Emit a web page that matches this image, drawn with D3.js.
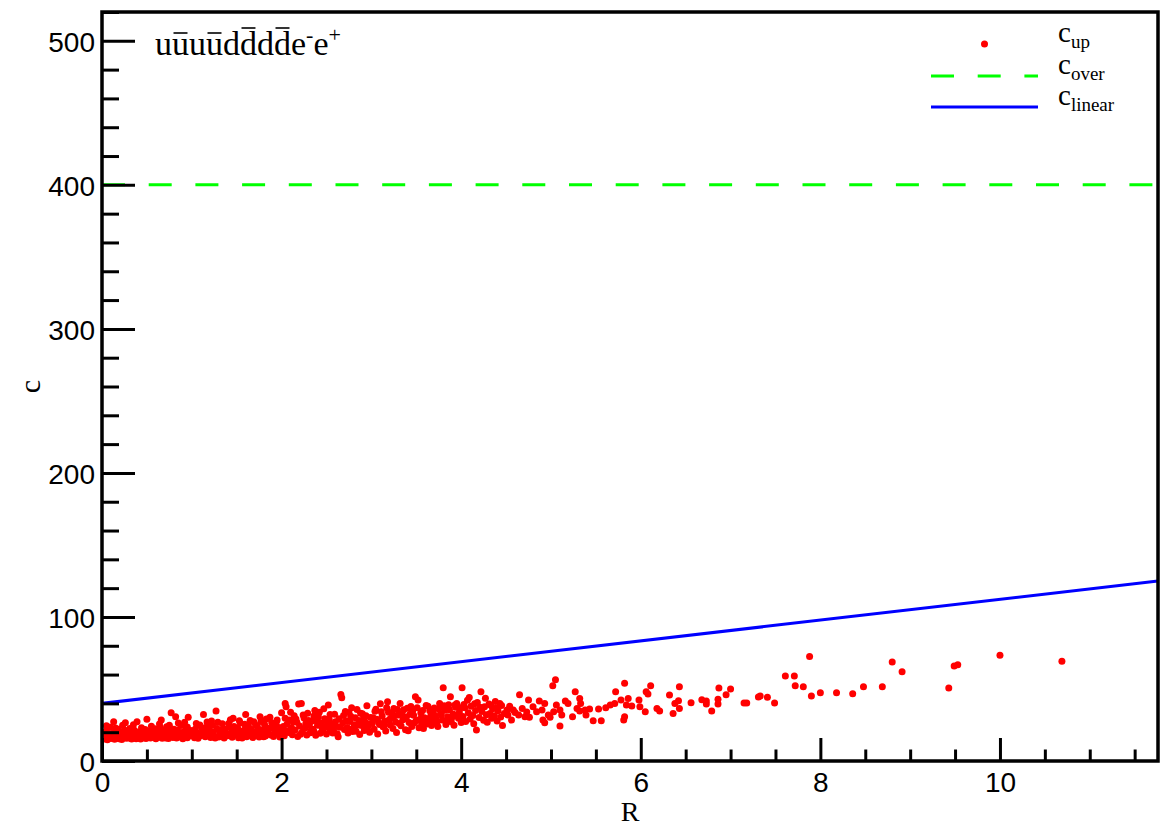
<!DOCTYPE html>
<html>
<head>
<meta charset="utf-8">
<script src="https://cdn.jsdelivr.net/npm/d3@7"></script>
<style>
    body { margin: 0; background: white; }
    svg { display: block; }
    .tickLabel text { font-family: "Liberation Sans", Arial, sans-serif; font-size: 28px; fill: black; }
    .serif { font-family: "Liberation Serif", "Times New Roman", serif; fill: black; }
</style>
</head>
<body>
<svg id="chart" width="1171" height="828"></svg>
<script>

//  axis ranges and ticks
const rRange = [0, 11.76];
const cRange = [0, 520];
const rMajorTicks = [0, 2, 4, 6, 8, 10];
const rMinorTicks = [0.5, 1, 1.5, 2.5, 3, 3.5, 4.5, 5, 5.5, 6.5, 7, 7.5, 8.5, 9, 9.5, 10.5, 11, 11.5];
const cMajorTicks = [0, 100, 200, 300, 400, 500];
const cMinorTicks = [20, 40, 60, 80, 120, 140, 160, 180, 220, 240, 260, 280, 320, 340, 360, 380, 420, 440, 460, 480, 520];

//  c_over and c_linear
const overR = [0, 11.76];
const overC = [400, 400];
const linearR = [0, 11.76];
const linearC = [40, 125];

//  c_up points, [R, c]
const upPoints0to1 = [
    [0.01,17.5],[0.02,15.2],[0.03,19.8],[0.04,16.4],[0.05,21.0],[0.06,14.8],[0.07,18.3],[0.08,16.9],[0.09,23.5],[0.10,15.6],
    [0.11,19.1],[0.12,17.0],[0.13,27.3],[0.14,15.1],[0.15,20.4],[0.16,16.2],[0.17,18.8],[0.18,22.1],[0.19,15.4],[0.20,17.7],
    [0.21,19.5],[0.22,14.9],[0.23,24.8],[0.24,16.6],[0.25,18.1],[0.26,26.6],[0.27,15.8],[0.28,20.9],[0.29,17.3],[0.30,16.0],
    [0.31,22.6],[0.32,18.5],[0.33,15.3],[0.34,19.9],[0.35,17.1],[0.36,21.4],[0.37,16.3],[0.38,15.5],[0.39,27.3],[0.40,18.6],
    [0.41,20.2],[0.42,16.8],[0.43,15.2],[0.44,23.1],[0.45,17.9],[0.46,19.4],[0.47,16.1],[0.48,21.8],[0.49,15.7],[0.50,28.9],
    [0.51,18.2],[0.52,17.0],[0.53,20.6],[0.54,15.9],[0.55,24.2],[0.56,16.7],[0.57,19.0],[0.58,18.0],[0.59,22.4],[0.60,15.4],
    [0.61,17.6],[0.62,20.1],[0.63,16.5],[0.64,25.7],[0.65,18.9],[0.66,28.4],[0.67,15.8],[0.68,21.2],[0.69,17.4],[0.70,19.6],
    [0.71,16.0],[0.72,23.8],[0.73,18.3],[0.74,15.6],[0.75,20.7],[0.76,17.2],[0.77,33.5],[0.78,19.3],[0.79,16.4],[0.80,22.0],
    [0.81,18.7],[0.82,30.7],[0.83,15.9],[0.84,21.5],[0.85,17.8],[0.86,19.8],[0.87,16.6],[0.88,24.6],[0.89,18.4],[0.90,15.5],
    [0.91,20.3],[0.92,26.9],[0.93,17.0],[0.94,22.8],[0.95,16.2],[0.96,30.3],[0.97,19.2],[0.98,17.5],[0.99,21.1],
    [0.05,24.5],[0.15,22.9],[0.25,21.6],[0.35,25.2],[0.45,22.0],[0.55,20.8],[0.65,23.0],[0.75,24.9],[0.85,26.3],[0.95,23.6]
];
const upPoints1to2 = [
    [1.01,18.6],[1.02,20.5],[1.03,16.1],[1.04,22.3],[1.06,19.4],[1.07,15.8],[1.08,17.2],[1.09,25.0],[1.10,17.7],[1.12,20.8],
    [1.13,32.3],[1.14,19.5],[1.15,16.9],[1.16,23.4],[1.18,18.9],[1.19,21.7],[1.20,24.2],[1.21,16.4],[1.22,27.8],[1.24,19.9],
    [1.25,17.3],[1.26,16.0],[1.27,34.7],[1.28,22.5],[1.30,16.7],[1.31,20.4],[1.32,21.0],[1.33,18.2],[1.34,25.9],[1.36,15.9],
    [1.37,21.9],[1.38,17.8],[1.39,19.0],[1.40,17.6],[1.42,23.7],[1.43,28.6],[1.44,20.0],[1.45,16.5],[1.46,29.6],[1.48,20.6],
    [1.49,18.4],[1.50,18.8],[1.51,22.9],[1.52,16.2],[1.54,26.4],[1.55,19.7],[1.56,15.9],[1.57,17.9],[1.58,21.3],[1.60,32.3],
    [1.61,16.8],[1.62,20.9],[1.63,24.5],[1.64,19.3],[1.66,22.0],[1.67,17.1],[1.68,16.3],[1.69,27.2],[1.70,20.2],[1.72,18.5],
    [1.73,23.9],[1.74,19.8],[1.75,16.6],[1.76,30.7],[1.78,21.5],[1.79,19.1],[1.80,16.9],[1.81,25.3],[1.82,17.4],[1.84,22.7],
    [1.85,20.0],[1.86,22.2],[1.87,30.3],[1.88,18.0],[1.90,24.1],[1.91,17.0],[1.92,19.0],[1.93,21.1],[1.94,26.8],[1.96,19.6],
    [1.97,23.2],[1.98,16.7],[1.99,18.3],[2.00,33.5],
    [1.05,26.0],[1.11,23.1],[1.17,27.0],[1.23,24.8],[1.29,26.9],[1.35,22.4],[1.41,26.1],[1.47,24.0],[1.53,27.9],[1.59,25.5],
    [1.65,28.1],[1.71,25.0],[1.77,27.4],[1.83,29.2],[1.89,26.6],[1.95,28.4]
];
const upPoints2to3 = [
    [2.01,21.0],[2.02,24.0],[2.03,17.5],[2.04,40.0],[2.05,37.7],[2.06,25.6],[2.07,20.8],[2.08,19.8],[2.09,28.4],[2.11,23.0],
    [2.12,18.2],[2.13,27.0],[2.14,31.5],[2.15,21.6],[2.17,26.9],[2.18,17.0],[2.19,39.5],[2.20,24.3],[2.21,18.6],[2.22,40.0],
    [2.23,20.1],[2.25,29.8],[2.26,22.7],[2.27,26.0],[2.28,18.0],[2.29,33.1],[2.31,25.2],[2.32,19.6],[2.33,21.5],[2.34,27.7],
    [2.35,22.1],[2.37,35.0],[2.38,17.8],[2.39,28.0],[2.40,24.8],[2.41,30.6],[2.43,19.2],[2.44,26.2],[2.45,23.0],[2.46,21.4],
    [2.47,36.2],[2.49,23.6],[2.50,18.7],[2.51,26.5],[2.52,38.8],[2.53,28.9],[2.55,22.4],[2.56,25.9],[2.57,19.5],[2.58,20.3],
    [2.59,32.4],[2.61,24.0],[2.62,18.9],[2.63,16.9],[2.64,29.3],[2.65,23.5],[2.66,46.2],[2.67,43.9],[2.68,26.5],[2.70,21.8],
    [2.71,34.3],[2.72,27.8],[2.73,23.3],[2.74,19.5],[2.76,27.4],[2.77,31.0],[2.78,37.0],[2.79,20.5],[2.80,22.9],[2.81,25.1],
    [2.83,20.6],[2.84,35.7],[2.85,25.0],[2.86,28.1],[2.87,18.4],[2.89,24.6],[2.90,32.8],[2.91,29.0],[2.92,21.2],[2.93,27.0],
    [2.95,38.3],[2.96,23.8],[2.97,25.5],[2.98,19.9],[2.99,30.2],
    [2.04,29.6],[2.10,33.8],[2.16,29.1],[2.24,32.0],[2.30,28.2],[2.36,31.3],[2.42,33.9],[2.48,29.4],[2.54,32.2],[2.60,27.3],
    [2.69,31.6],[2.75,33.7],[2.82,30.0],[2.88,33.2],[2.94,31.4],[2.36,20.4],[2.54,21.0],[2.75,22.0],[2.94,22.8]
];
const upPoints3to4 = [
    [3.01,26.1],[3.02,30.0],[3.03,22.0],[3.04,34.5],[3.06,29.0],[3.07,18.7],[3.08,27.0],[3.09,25.4],[3.10,39.8],[3.12,31.3],
    [3.13,23.7],[3.14,24.5],[3.15,27.6],[3.16,20.9],[3.18,41.1],[3.19,33.8],[3.20,28.8],[3.21,25.0],[3.22,29.9],[3.24,22.6],
    [3.25,36.4],[3.26,31.5],[3.27,27.1],[3.28,19.8],[3.30,32.0],[3.31,26.0],[3.32,40.0],[3.33,24.4],[3.35,28.7],[3.36,35.6],
    [3.37,29.5],[3.38,21.7],[3.39,30.5],[3.41,21.0],[3.42,26.8],[3.43,32.5],[3.44,37.9],[3.45,24.0],[3.47,31.8],[3.48,26.5],
    [3.49,44.6],[3.50,28.2],[3.52,42.3],[3.53,23.1],[3.54,29.0],[3.55,33.4],[3.56,26.0],[3.58,22.5],[3.59,30.0],[3.60,27.2],
    [3.61,38.6],[3.62,25.7],[3.64,29.4],[3.65,34.9],[3.66,31.0],[3.67,24.7],[3.68,27.9],[3.70,36.8],[3.71,31.2],[3.72,29.2],
    [3.73,26.4],[3.74,23.9],[3.76,40.0],[3.77,33.0],[3.78,32.0],[3.79,28.5],[3.80,50.8],[3.82,35.3],[3.83,25.3],[3.84,27.7],
    [3.85,30.8],[3.86,39.1],[3.88,44.6],[3.89,27.3],[3.90,30.5],[3.91,32.6],[3.92,24.9],[3.94,37.4],[3.95,40.0],[3.96,31.6],
    [3.97,29.7],[3.98,34.1],[4.00,26.7],
    [3.05,35.9],[3.11,34.2],[3.17,37.0],[3.23,33.5],[3.29,35.8],[3.34,33.0],[3.40,36.6],[3.46,34.8],[3.51,36.9],[3.57,35.1],
    [3.63,38.0],[3.69,34.0],[3.75,36.3],[3.81,38.4],[3.87,35.6],[3.93,38.9],[3.99,37.0]
];
const upPoints4to5 = [
    [4.01,50.8],[4.02,30.9],[4.04,36.9],[4.05,27.5],[4.07,42.1],[4.08,33.5],[4.10,29.1],[4.11,38.0],[4.13,31.6],[4.14,25.8],
    [4.16,35.0],[4.17,21.5],[4.18,40.7],[4.20,30.2],[4.22,48.0],[4.23,34.4],[4.25,28.3],[4.26,37.6],[4.28,32.1],[4.29,26.9],
    [4.31,39.5],[4.32,33.0],[4.34,29.6],[4.35,36.2],[4.37,31.4],[4.38,41.3],[4.40,27.8],[4.41,34.8],[4.43,40.0],[4.44,30.5],
    [4.46,24.7],[4.51,35.4],[4.52,31.9],[4.56,28.4],[4.58,35.4],[4.64,31.9],[4.65,46.0],[4.71,30.7],[4.75,42.3],[4.76,30.3],
    [4.80,37.7],[4.84,34.2],[4.87,41.6],[4.90,35.4],[4.91,28.4],[4.93,40.0],[4.93,26.6],[4.97,31.9],[4.99,30.3],
    [4.03,39.2],[4.09,44.0],[4.15,39.8],[4.21,37.4],[4.27,43.5],[4.33,38.7],[4.39,36.8],[4.45,38.5],[4.48,33.0],[4.54,38.0],
    [4.60,33.6],[4.68,36.5],[4.73,34.0]
];
const upPoints5to7 = [
    [5.02,52.2],[5.05,56.4],[5.03,34.2],[5.06,38.8],[5.10,35.4],[5.10,24.3],[5.12,31.9],[5.16,41.6],[5.19,40.0],[5.24,30.7],
    [5.27,48.0],[5.29,36.4],[5.32,43.4],[5.33,40.0],[5.32,34.7],[5.38,35.4],[5.43,36.1],[5.39,31.9],[5.47,27.9],[5.53,36.1],
    [5.56,27.9],[5.61,37.0],[5.66,38.8],[5.71,40.0],[5.72,48.0],[5.78,42.3],[5.82,53.9],[5.84,38.8],[5.82,30.7],[5.81,28.4],
    [5.86,43.4],[5.90,38.1],[5.98,42.3],[5.99,37.7],[6.05,34.2],[6.06,48.0],[6.08,46.5],[6.11,52.2],[6.18,36.4],[6.21,34.7],
    [6.32,45.8],[6.36,32.9],[6.38,40.0],[6.42,41.8],[6.43,51.5],[6.43,36.4],[6.56,40.4],[6.68,42.5],[6.73,41.6],[6.73,39.5],
    [6.79,34.7],[6.86,42.8],[6.86,39.5],[6.87,50.6],[6.95,46.0],[7.00,49.9]
];
const upPoints7up = [
    [7.15,40.2],[7.18,40.2],[7.31,44.4],[7.33,45.1],[7.41,44.2],[7.49,40.2],[7.61,59.0],[7.71,59.0],[7.88,72.6],[7.72,52.2],
    [7.81,51.5],[7.90,45.1],[8.00,47.4],[8.18,47.4],[8.36,46.7],[8.48,51.5],[8.69,51.5],[8.80,68.7],[8.91,61.9],[9.43,50.6],
    [9.49,65.9],[9.53,66.8],[10.0,73.5],[10.69,69.3]
];

const legendRows = [
    { key: "up", label: "up" },
    { key: "over", label: "over" },
    { key: "linear", label: "linear" }
];

const chart = {

    svg: null,
    plot: null,             //  clipped group for the data marks
    xScale: null,
    yScale: null,

    left: 102,
    right: 1158,
    top: 12,
    bottom: 761,

    initialize: function () {
        this.svg = d3.select('#chart');
        this.xScale = d3.scaleLinear().domain(rRange).range([this.left, this.right]);
        this.yScale = d3.scaleLinear().domain(cRange).range([this.bottom, this.top]);

        this.svg.append('clipPath').attr('id', 'plotClip')
            .append('rect').attr('x', this.left).attr('y', this.top)
            .attr('width', this.right - this.left).attr('height', this.bottom - this.top);
        this.plot = this.svg.append('g').attr('clip-path', 'url(#plotClip)');

        this.drawData();
        this.drawFrame();
        this.drawAxes();
        this.drawTitles();
        this.drawLegend();
    },

    drawData: function () {
        const x = this.xScale, y = this.yScale;
        const lineGen = d3.line().x(d => x(d[0])).y(d => y(d[1]));

        const allUp = [].concat(upPoints0to1, upPoints1to2, upPoints2to3, upPoints3to4,
            upPoints4to5, upPoints5to7, upPoints7up);
        this.plot.selectAll('circle.up').data(allUp).enter().append('circle')
            .attr('class', 'up')
            .attr('cx', d => x(d[0])).attr('cy', d => y(d[1])).attr('r', 3.5)
            .attr('fill', '#ff0000');

        this.plot.append('path').datum(d3.zip(overR, overC))
            .attr('d', lineGen).attr('fill', 'none')
            .attr('stroke', '#00ff00').attr('stroke-width', 3)
            .attr('stroke-dasharray', '23,23.7');

        this.plot.append('path').datum(d3.zip(linearR, linearC))
            .attr('d', lineGen).attr('fill', 'none')
            .attr('stroke', '#0000ff').attr('stroke-width', 3);
    },

    drawFrame: function () {
        this.svg.append('rect')
            .attr('x', this.left).attr('y', this.top)
            .attr('width', this.right - this.left).attr('height', this.bottom - this.top)
            .attr('fill', 'none').attr('stroke', 'black').attr('stroke-width', 3.5);
    },

    drawAxes: function () {
        const x = this.xScale, y = this.yScale;

        //  bottom axis: major with labels, minor without. Ticks point inside.
        this.svg.append('g').attr('class', 'tickLabel')
            .attr('transform', `translate(0,${this.bottom})`)
            .call(d3.axisBottom(x).tickValues(rMajorTicks).tickFormat(d3.format('d'))
                .tickSizeInner(-23).tickSizeOuter(0).tickPadding(11));
        this.svg.append('g')
            .attr('transform', `translate(0,${this.bottom})`)
            .call(d3.axisBottom(x).tickValues(rMinorTicks).tickFormat('')
                .tickSizeInner(-11.5).tickSizeOuter(0));

        const yMajor = this.svg.append('g').attr('class', 'tickLabel')
            .attr('transform', `translate(${this.left},0)`)
            .call(d3.axisLeft(y).tickValues(cMajorTicks).tickFormat(d3.format('d'))
                .tickSizeInner(-33).tickSizeOuter(0).tickPadding(7));
        yMajor.selectAll('text').attr('dy', '0.38em');
        this.svg.append('g')
            .attr('transform', `translate(${this.left},0)`)
            .call(d3.axisLeft(y).tickValues(cMinorTicks).tickFormat('')
                .tickSizeInner(-17).tickSizeOuter(0));

        //  the frame already draws the axis lines
        this.svg.selectAll('.domain').remove();
        this.svg.selectAll('.tick line').attr('stroke', 'black').attr('stroke-width', 3);
    },

    drawTitles: function () {
        this.svg.append('text').attr('class', 'serif')
            .attr('x', (this.left + this.right) / 2).attr('y', 821)
            .attr('text-anchor', 'middle').attr('font-size', 28)
            .text('R');

        this.svg.append('text').attr('class', 'serif')
            .attr('transform', `translate(40,${(this.top + this.bottom) / 2}) rotate(-90)`)
            .attr('text-anchor', 'middle').attr('font-size', 30)
            .text('c');

        //  process label: u ubar u ubar d dbar d dbar e- e+
        const baseY = 55;
        const tLabel = this.svg.append('text').attr('class', 'serif')
            .attr('x', 155).attr('y', baseY).attr('font-size', 34);
        tLabel.append('tspan').text('uuuudddde');
        tLabel.append('tspan').attr('font-size', 22).attr('dy', -13).text('-');
        tLabel.append('tspan').attr('dy', 13).text('e');
        tLabel.append('tspan').attr('font-size', 22).attr('dy', -13).text('+');

        const node = tLabel.node();
        const bars = [[1, 22], [3, 22], [5, 27], [7, 27]];     //  char index, height above baseline
        bars.forEach(b => {
            const ext = node.getExtentOfChar(b[0]);
            this.svg.append('line')
                .attr('x1', ext.x + 1.5).attr('x2', ext.x + ext.width - 1.5)
                .attr('y1', baseY - b[1]).attr('y2', baseY - b[1])
                .attr('stroke', 'black').attr('stroke-width', 1.6);
        });
    },

    drawLegend: function () {
        const rowY = [44, 76, 107];
        const xSym0 = 931, xSym1 = 1038, xText = 1058;

        this.svg.append('circle').attr('cx', (xSym0 + xSym1) / 2).attr('cy', rowY[0])
            .attr('r', 3.5).attr('fill', '#ff0000');
        this.svg.append('line').attr('x1', xSym0).attr('x2', xSym1)
            .attr('y1', rowY[1]).attr('y2', rowY[1])
            .attr('stroke', '#00ff00').attr('stroke-width', 3).attr('stroke-dasharray', '23,23.7');
        this.svg.append('line').attr('x1', xSym0).attr('x2', xSym1)
            .attr('y1', rowY[2]).attr('y2', rowY[2])
            .attr('stroke', '#0000ff').attr('stroke-width', 3);

        legendRows.forEach((row, i) => {
            const t = this.svg.append('text').attr('class', 'serif')
                .attr('x', xText).attr('y', rowY[i] - 2).attr('font-size', 29);
            t.append('tspan').text('c');
            t.append('tspan').attr('font-size', 19).attr('dy', 6).text(row.label);
        });
    },
}

chart.initialize();

</script>
</body>
</html>
